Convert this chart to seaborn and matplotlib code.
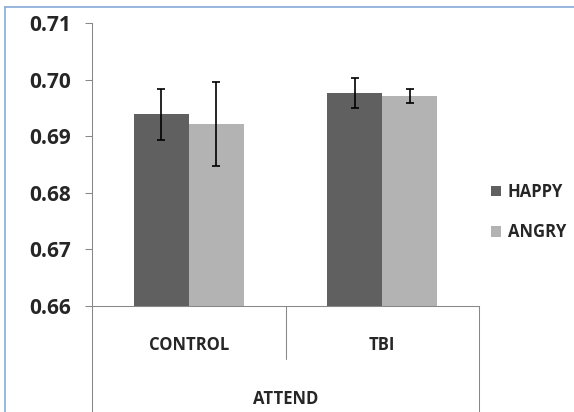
import seaborn as sns
import matplotlib.pyplot as plt
import matplotlib.transforms as mtransforms
from matplotlib.lines import Line2D
import pandas as pd

# datos
groups = ["CONTROL", "TBI"]
emotions = ["HAPPY", "ANGRY"]
happy_means = [0.6939, 0.6976]
angry_means = [0.6921, 0.6971]
happy_err = [0.0045, 0.0026]
angry_err = [0.0074, 0.00125]
y_ticks = [0.66, 0.67, 0.68, 0.69, 0.70, 0.71]
outer_label = "ATTEND"

colors = {"HAPPY": "#606060", "ANGRY": "#b3b3b3"}
axis_gray = "#888888"

df = pd.DataFrame({
    "group": groups * 2,
    "emotion": ["HAPPY"] * len(groups) + ["ANGRY"] * len(groups),
    "value": happy_means + angry_means,
})
errors = {"HAPPY": happy_err, "ANGRY": angry_err}

sns.set_theme(style="white")
plt.rcParams["font.family"] = ["Open Sans", "DejaVu Sans"]
plt.rcParams["font.weight"] = "bold"

fig = plt.figure(figsize=(5.74, 4.12), dpi=100)
ax = fig.add_axes([92 / 574, 1 - 306 / 412, (479 - 92) / 574, (306 - 23) / 412])

sns.barplot(data=df, x="group", y="value", hue="emotion", order=groups,
            hue_order=emotions, palette=colors, saturation=1, width=0.57,
            errorbar=None, linewidth=0, ax=ax)

# barras de error sobre cada barra dibujada
for container, emo in zip(ax.containers, emotions):
    for bar, err in zip(container, errors[emo]):
        xc = bar.get_x() + bar.get_width() / 2
        ax.errorbar(xc, bar.get_height(), yerr=err, fmt="none", ecolor="black",
                    elinewidth=1.2, capsize=2.9, capthick=1.2)

ax.set_ylim(0.66, 0.71)
ax.set_yticks(y_ticks)
ax.set_yticklabels([f"{v:.2f}" for v in y_ticks], fontsize=15, fontweight="bold")
ax.tick_params(axis="y", length=5, width=0.75, color=axis_gray, pad=10, left=True)
ax.set_xticks(range(len(groups)))
ax.set_xticklabels(groups, fontsize=12, fontweight="bold")
ax.tick_params(axis="x", length=0, pad=21.5)
ax.set_xlim(-0.5, len(groups) - 0.5)
ax.set_xlabel("")
ax.set_ylabel("")

for side in ["top", "right"]:
    ax.spines[side].set_visible(False)
for side in ["left", "bottom"]:
    ax.spines[side].set_color(axis_gray)
    ax.spines[side].set_linewidth(0.75)

# eje de categorias en dos niveles
ax_h = (306 - 23)
bottom_frac = -(412 - 306) / ax_h
sep_frac = -(359 - 306) / ax_h
for xa in [0, 1]:
    ax.plot([xa, xa], [0, bottom_frac], transform=ax.transAxes, color=axis_gray,
            lw=0.75, clip_on=False)
blend = mtransforms.blended_transform_factory(ax.transData, ax.transAxes)
for i in range(len(groups) - 1):
    ax.plot([i + 0.5, i + 0.5], [0, sep_frac], transform=blend, color=axis_gray,
            lw=0.75, clip_on=False)
ax.text(0.5, -(399 - 306) / ax_h, outer_label, transform=ax.transAxes,
        ha="center", va="center", fontsize=12, fontweight="bold")

# leyenda
old = ax.get_legend()
handles = old.legend_handles
labels = [t.get_text() for t in old.get_texts()]
old.remove()
fig.legend(handles, labels, loc="center left", bbox_to_anchor=(491 / 574, 1 - 212 / 412),
           frameon=False, borderpad=0, borderaxespad=0, handlelength=0.6,
           handleheight=0.6, handletextpad=0.4, labelspacing=1.35,
           prop={"size": 12, "weight": "bold"})

# marco del grafico (recortado a la derecha y abajo)
frame_c = "#86a9d8"
fig.add_artist(Line2D([5 / 574, 5 / 574], [0, 1 - 7 / 412], color=frame_c, lw=1.2,
                      transform=fig.transFigure))
fig.add_artist(Line2D([5 / 574, 1], [1 - 7 / 412, 1 - 7 / 412], color=frame_c, lw=1.2,
                      transform=fig.transFigure))

plt.savefig("out.png", dpi=100)
plt.close()
